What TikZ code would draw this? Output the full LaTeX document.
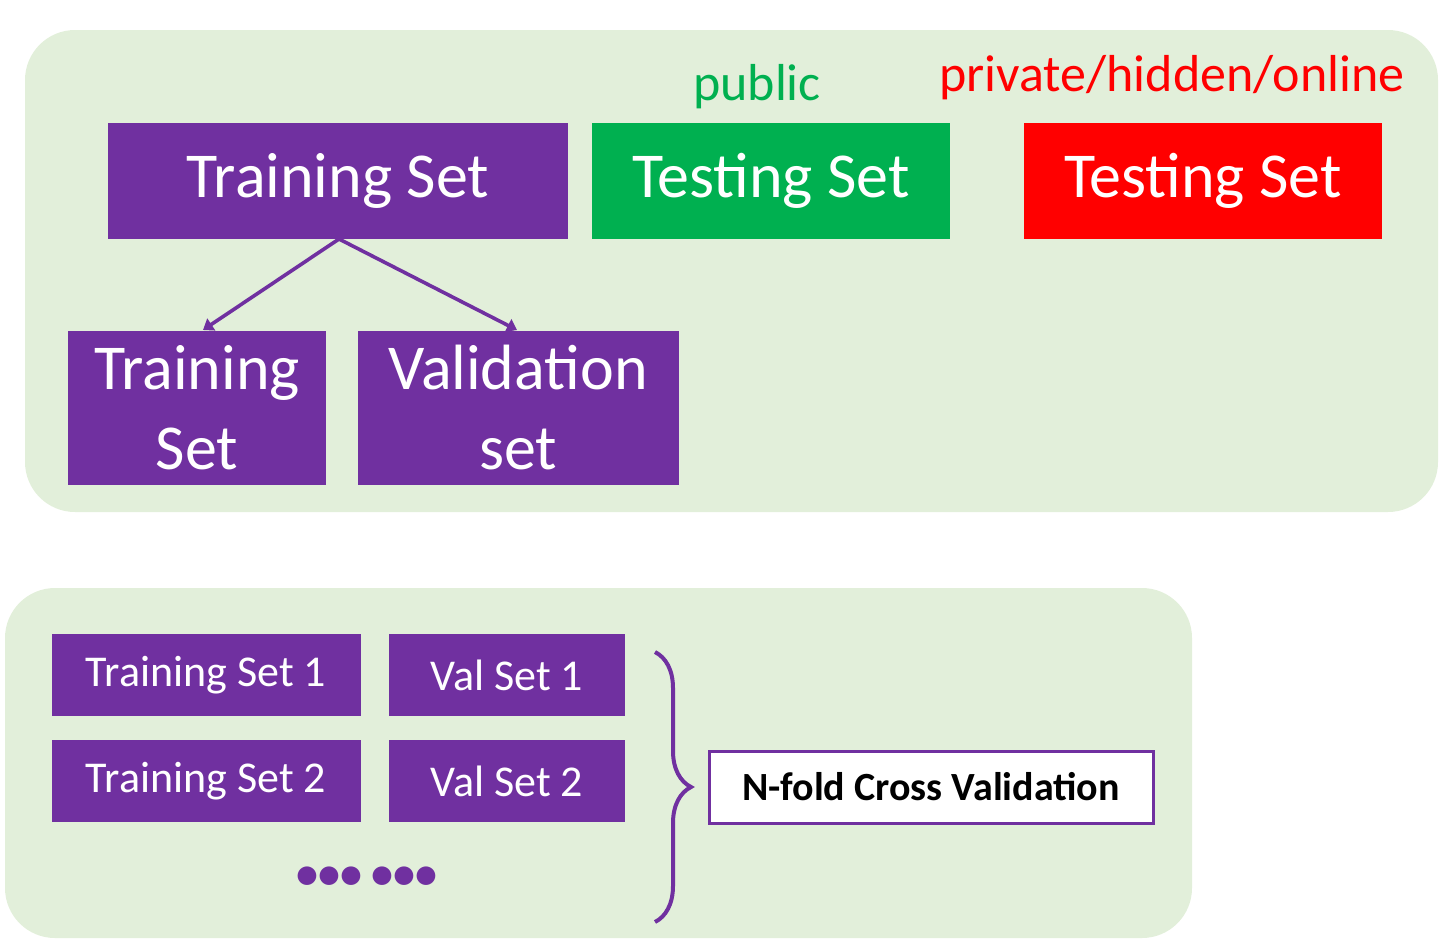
\documentclass[tikz,border=0pt]{standalone}
\usepackage{fontspec}
\setmainfont{Carlito}
\usetikzlibrary{decorations.pathreplacing,arrows.meta}
\definecolor{panel}{HTML}{E2EFDA}
\definecolor{purp}{HTML}{7030A0}
\definecolor{grn}{HTML}{00B050}
\begin{document}
\begin{tikzpicture}[x=0.5pt,y=-0.5pt,
  panelbox/.style={fill=panel,draw=none,rounded corners=25pt},
  setbox/.style={fill=#1,draw=none,text=white,align=center,inner sep=0pt},
  bigtxt/.style={font=\fontsize{32}{38}\selectfont},
  midtxt/.style={font=\fontsize{22}{26}\selectfont},
  arr/.style={draw=purp,line width=1.8pt,-{Triangle[length=5pt,width=7pt]}}]
\useasboundingbox (0,0) rectangle (1440,938);
\fill[panel,rounded corners=25pt] (25,30) rectangle (1438,512);
\fill[panel,rounded corners=25pt] (5,588) rectangle (1192,938);
\node[setbox=purp,bigtxt,minimum width=230pt,minimum height=58pt] (ts) at (338,181) {Training Set};
\node[setbox=grn,bigtxt,minimum width=179pt,minimum height=58pt] (pub) at (771,181) {Testing Set};
\node[setbox=red,bigtxt,minimum width=179pt,minimum height=58pt] (priv) at (1203,181) {Testing Set};
\node[text=grn,font=\fontsize{26}{30}\selectfont] (publbl) at (757,87) {public};
\node[text=red,font=\fontsize{26}{30}\selectfont] (privlbl) at (1172,78) {private/hidden/online};
\node[setbox=purp,bigtxt,minimum width=129pt,minimum height=77pt,font=\fontsize{32}{40}\selectfont] (tr) at (197,408) {Training\\Set};
\node[setbox=purp,bigtxt,minimum width=160.5pt,minimum height=77pt,font=\fontsize{32}{40}\selectfont] (val) at (518,408) {Validation\\set};
\coordinate (tsb) at (339,239);
\draw[arr] (tsb) -- (203,330);
\draw[arr] (tsb) -- (517,330);
\node[setbox=purp,midtxt,minimum width=154.5pt,minimum height=41pt] (t1) at (206,675) {Training Set 1};
\node[setbox=purp,midtxt,minimum width=118pt,minimum height=41pt] (v1) at (507,675) {Val Set 1};
\node[setbox=purp,midtxt,minimum width=154.5pt,minimum height=41pt] (t2) at (206,781) {Training Set 2};
\node[setbox=purp,midtxt,minimum width=118pt,minimum height=41pt] (v2) at (507,781) {Val Set 2};
\node[text=purp,font=\fontsize{22}{26}\selectfont\bfseries] (dots) at (367,878) {••• •••};
\coordinate (bt) at (655,652);
\coordinate (bb) at (655,922);
\draw[purp,line width=2pt,decorate,decoration={brace,amplitude=18pt}] (bt) -- (bb);
\node[draw=purp,line width=1.5pt,fill=white,minimum width=222pt,minimum height=36pt,font=\fontsize{20}{24}\selectfont\bfseries] (nf) at (931,787) {N-fold Cross Validation};
\end{tikzpicture}
\end{document}
